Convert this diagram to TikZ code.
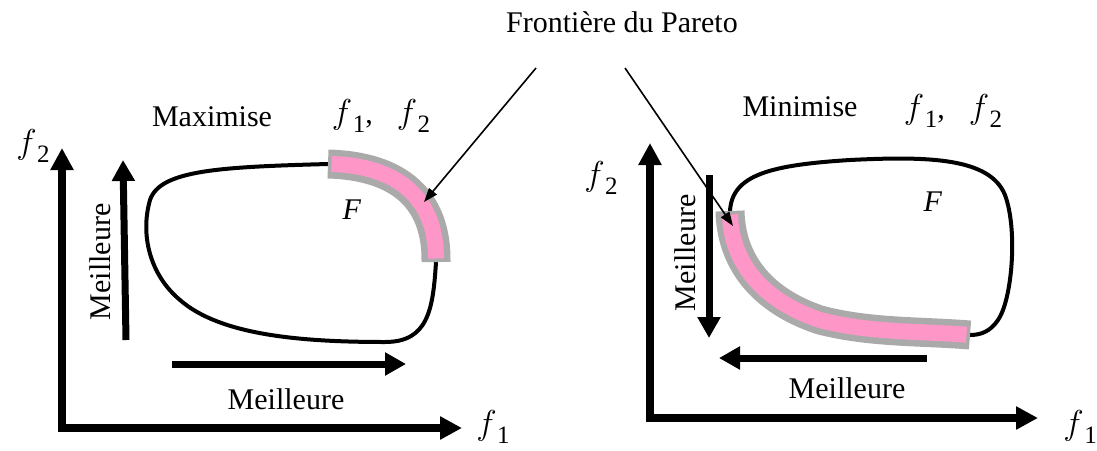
\documentclass[tikz,border=0pt]{standalone}
\usepackage{fontspec}
\setmainfont{Liberation Serif}
\usetikzlibrary{arrows.meta}
\newcommand\fsub[1]{{\fontsize{19}{22}\selectfont$f$}\kern0.02em\raisebox{-0.3em}{\fontsize{12.5}{14}\selectfont #1}}
\begin{document}
\begin{tikzpicture}[x=0.5pt,y=-0.5pt,
  lbl/.style={inner sep=0pt,font=\fontsize{15}{18}\selectfont},
  axis/.style={line width=4pt,-{Triangle[width=11pt,length=11pt]}},
  better/.style={line width=3.5pt,-{Triangle[width=11pt,length=10.5pt]}},
  blob/.style={line width=2pt},
  bandout/.style={line width=14.5pt,draw=bandgray,line cap=butt},
  bandin/.style={line width=8pt,draw=bandpink,line cap=butt},
  pointer/.style={line width=0.8pt,-{Triangle[width=5pt,length=7pt]}}]
\definecolor{bandgray}{RGB}{170,170,170}
\definecolor{bandpink}{RGB}{255,150,200}
\useasboundingbox (0,0) rectangle (1097,450);

% ---------- left panel ----------
\coordinate (lo) at (62,428);
\coordinate (lyt) at (62,148);
\coordinate (lxt) at (462,428);
\draw[axis] ([yshift=-2pt]lo) -- (lyt);
\draw[axis] ([xshift=-2pt]lo) -- (lxt);
\node[lbl] (lf2) at (33,146) {\fsub{2}};
\node[lbl] (lf1) at (493,427) {\fsub{1}};

\coordinate (lvb) at (126,340);
\coordinate (lvt) at (123,160);
\draw[better] (lvb) -- (lvt);
\coordinate (lhb) at (172,364);
\coordinate (lht) at (406,364);
\draw[better] (lhb) -- (lht);
\node[lbl,rotate=90] (lmv) at (100,262) {Meilleure};
\node[lbl] (lmh) at (286,399) {Meilleure};
\node[lbl] (lmax) at (212,117) {Maximise};
\node[lbl] (lff) at (381,116) {\fsub{1},\hspace{0.8em}\fsub{2}};
\node[lbl] (lF) at (352,210) {\textit{F}};

\draw[blob] (436,262) .. controls (433,310) and (428,342) .. (385,342)
  .. controls (300,342) and (220,335) .. (180,300)
  .. controls (150,275) and (140,235) .. (150,200)
  .. controls (160,170) and (220,167) .. (328,164);
\draw[bandout] (328,164) .. controls (400,166) and (437,200) .. (436,262);
\draw[bandin] (331.5,164) .. controls (400,166) and (436,200) .. (436,258.5);

% ---------- right panel ----------
\coordinate (ro) at (650,418);
\coordinate (ryt) at (650,143);
\coordinate (rxt) at (1038,418);
\draw[axis] ([yshift=-2pt]ro) -- (ryt);
\draw[axis] ([xshift=-2pt]ro) -- (rxt);
\node[lbl] (rf2) at (601,178) {\fsub{2}};
\node[lbl] (rf1) at (1080,427) {\fsub{1}};

\coordinate (rvb) at (709,175);
\coordinate (rvt) at (709,338);
\draw[better] (rvb) -- (rvt);
\coordinate (rhb) at (927,358);
\coordinate (rht) at (719,358);
\draw[better] (rhb) -- (rht);
\node[lbl,rotate=90] (rmv) at (685,253) {Meilleure};
\node[lbl] (rmh) at (847,388) {Meilleure};
\node[lbl] (rmin) at (800,107) {Minimise};
\node[lbl] (rff) at (953,111) {\fsub{1},\hspace{0.8em}\fsub{2}};
\node[lbl] (rF) at (933,202) {\textit{F}};

\draw[blob] (730,211) .. controls (732,175) and (770,165) .. (850,160)
  .. controls (930,156) and (990,158) .. (1005,195)
  .. controls (1018,230) and (1012,300) .. (998,320)
  .. controls (990,332) and (980,335) .. (970,335);
\draw[bandout] (730,211) .. controls (731,260) and (760,300) .. (820,320)
  .. controls (870,333) and (920,331) .. (970,335);
\draw[bandin] (730,214.5) .. controls (731,260) and (760,300) .. (820,320)
  .. controls (870,333) and (920,331) .. (966.5,334.7);

% ---------- title and pointers ----------
\node[lbl] (title) at (622,22) {Frontière du Pareto};
\coordinate (pl) at (536,68);
\coordinate (plt) at (424,202);
\coordinate (pr) at (625,68);
\coordinate (prt) at (733,226);
\draw[pointer] (pl) -- (plt);
\draw[pointer] (pr) -- (prt);
\end{tikzpicture}
\end{document}
